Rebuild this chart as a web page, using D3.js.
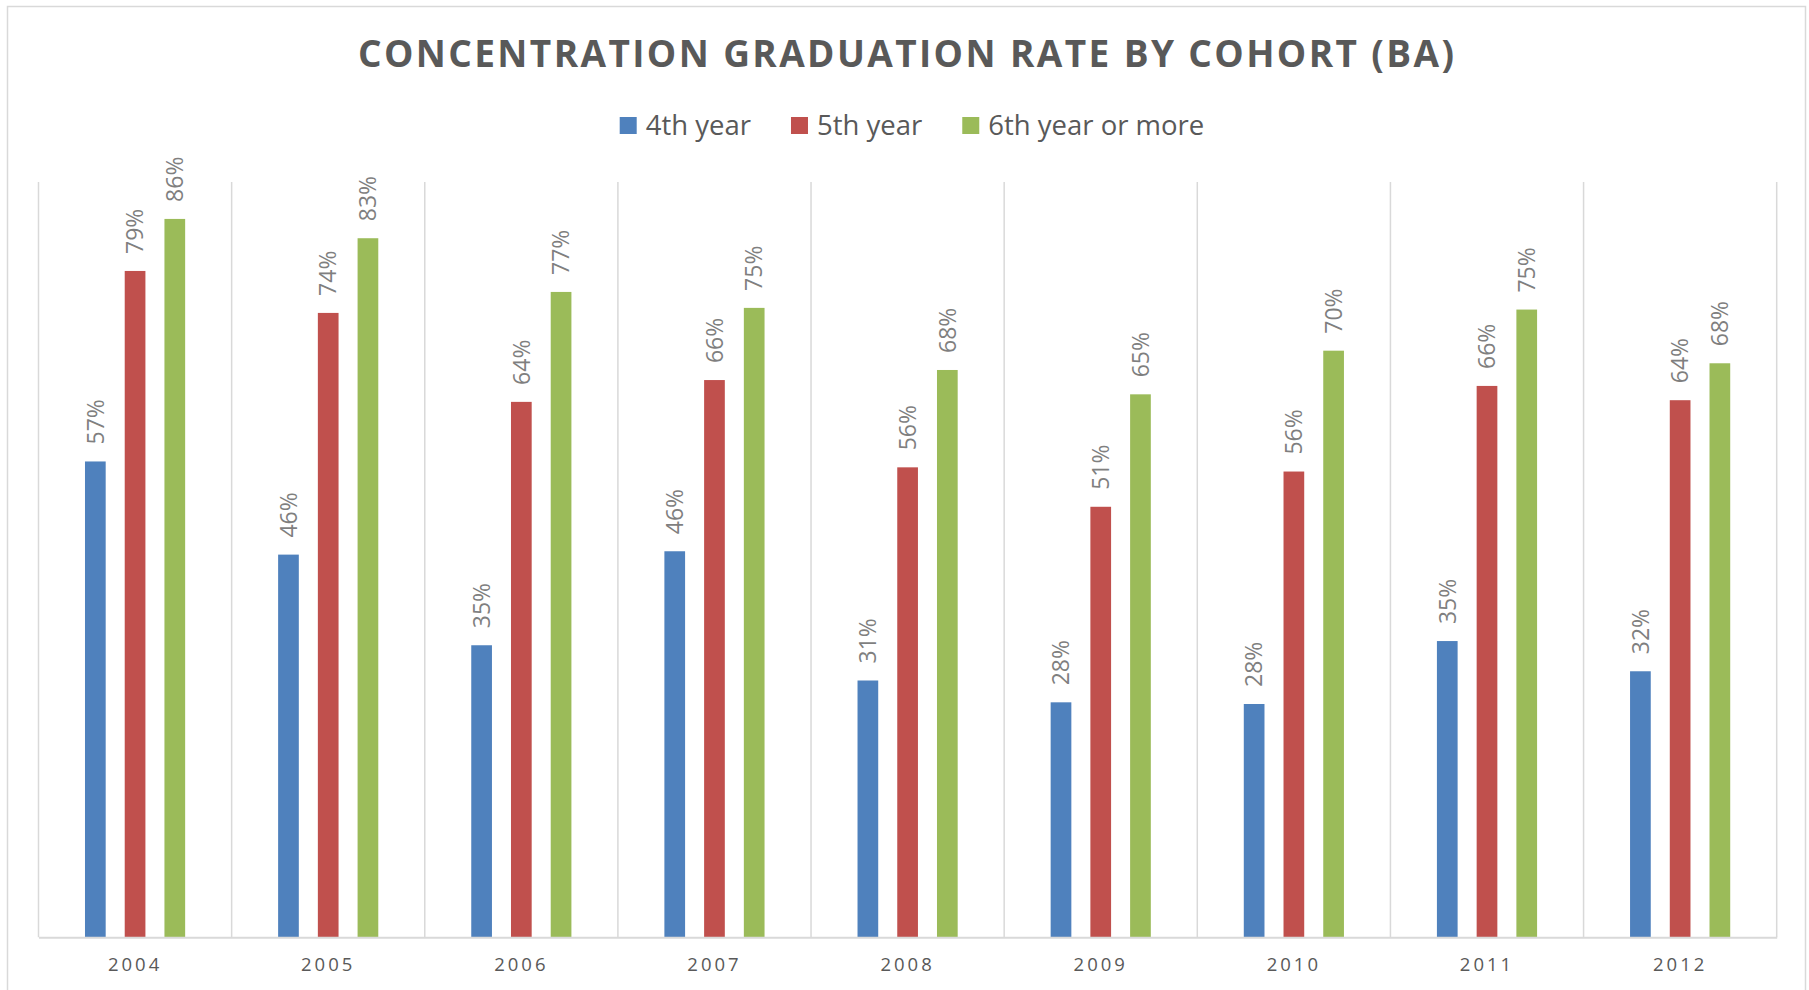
<!DOCTYPE html>
<html>
<head>
<meta charset="utf-8">
<script src="https://cdn.jsdelivr.net/npm/d3@7"></script>
<style>
  body { margin: 0; background: #fff; }
  text { font-family: "Open Sans", sans-serif; }
</style>
</head>
<body>
<div id="chart"></div>
<script>
  var years = ["2004", "2005", "2006", "2007", "2008", "2009", "2010", "2011", "2012"];
  var seriesNames = ["4th year", "5th year", "6th year or more"];
  var colors = ["#4f81bd", "#c0504d", "#9bbb59"];
  var fourthYear = [0.567, 0.456, 0.348, 0.460, 0.306, 0.280, 0.278, 0.353, 0.317];
  var fifthYear = [0.794, 0.744, 0.638, 0.664, 0.560, 0.513, 0.555, 0.657, 0.640];
  var sixthYear = [0.856, 0.833, 0.769, 0.750, 0.676, 0.647, 0.699, 0.748, 0.684];
  var yMax = 0.9;

  var W = 1809, H = 990;
  var margin = {top: 182, right: 32.3, bottom: 52.7, left: 38.5};
  var plotW = W - margin.left - margin.right;
  var plotH = H - margin.top - margin.bottom;

  var svg = d3.select("#chart").append("svg").attr("width", W).attr("height", H);

  // outer chart frame
  svg.append("rect").attr("x", 7.5).attr("y", 6.5).attr("width", 1798).attr("height", 1000)
    .style("fill", "#fff").style("stroke", "#d9d9d9").style("stroke-width", 1.5);

  svg.append("text").attr("x", 906).attr("y", 67).attr("text-anchor", "middle")
    .attr("textLength", 1096).attr("lengthAdjust", "spacing")
    .style("font-size", "37px").style("font-weight", "bold").style("fill", "#595959")
    .text("CONCENTRATION GRADUATION RATE BY COHORT (BA)");

  var g = svg.append("g").attr("transform", "translate(" + margin.left + "," + margin.top + ")");

  var x = d3.scaleBand().domain(years).range([0, plotW]).padding(0);
  var xs = d3.scaleBand().domain(seriesNames).range([0, x.bandwidth()])
    .paddingInner(0.479).paddingOuter(1.17);
  var y = d3.scaleLinear().domain([0, yMax]).range([plotH, 0]);

  // vertical category separators
  var sep = years.map(function(d) { return x(d); }).concat([plotW]);
  g.selectAll("line.sep").data(sep).enter().append("line").attr("class", "sep")
    .attr("x1", function(d) { return d; }).attr("x2", function(d) { return d; })
    .attr("y1", 0).attr("y2", plotH)
    .style("stroke", "#d9d9d9").style("stroke-width", 1.5);

  var rows = [];
  [fourthYear, fifthYear, sixthYear].forEach(function(vals, si) {
    vals.forEach(function(v, i) {
      rows.push({year: years[i], series: seriesNames[si], value: v, color: colors[si]});
    });
  });

  g.selectAll("rect.bar").data(rows).enter().append("rect").attr("class", "bar")
    .attr("x", function(d) { return x(d.year) + xs(d.series); })
    .attr("y", function(d) { return y(d.value); })
    .attr("width", xs.bandwidth())
    .attr("height", function(d) { return plotH - y(d.value); })
    .style("fill", function(d) { return d.color; });

  var fmt = d3.format(".0%");
  g.selectAll("text.lbl").data(rows).enter().append("text").attr("class", "lbl")
    .attr("transform", function(d) {
      var cx = x(d.year) + xs(d.series) + xs.bandwidth() / 2;
      return "translate(" + cx + "," + (y(d.value) - 17) + ") rotate(-90)";
    })
    .attr("dy", "0.36em")
    .style("font-size", "23px").style("fill", "#7f7f7f")
    .text(function(d) { return fmt(d.value); });

  var xAxis = g.append("g").attr("transform", "translate(0," + plotH + ")")
    .call(d3.axisBottom(x).tickSize(0).tickPadding(21));
  xAxis.select(".domain").style("stroke", "#d9d9d9").style("stroke-width", 2);
  xAxis.selectAll("text").style("font-family", "'Open Sans', sans-serif")
    .style("font-size", "18.5px").style("letter-spacing", "3px").style("fill", "#595959");

  // legend
  var legend = svg.append("g");
  var lx = 0;
  seriesNames.forEach(function(name, i) {
    var item = legend.append("g").attr("transform", "translate(" + lx + ",0)");
    item.append("rect").attr("x", 0).attr("y", 117).attr("width", 17).attr("height", 17)
      .style("fill", colors[i]);
    var t = item.append("text").attr("x", 26).attr("y", 134.5)
      .style("font-size", "27.5px").style("fill", "#595959").text(name);
    lx += 26 + t.node().getComputedTextLength() + 40;
  });
  var legW = lx - 40;
  legend.attr("transform", "translate(" + (912 - legW / 2) + ",0)");
</script>
</body>
</html>
